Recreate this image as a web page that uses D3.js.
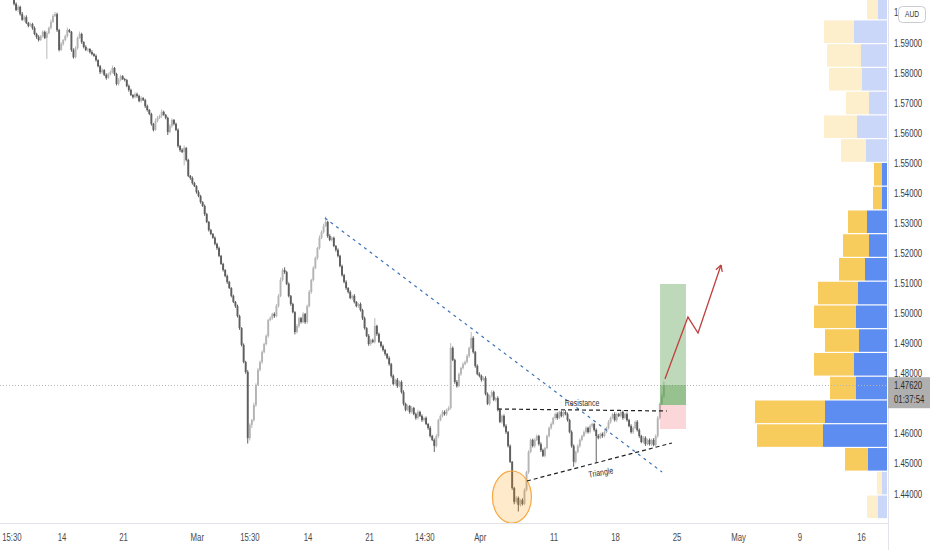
<!DOCTYPE html>
<html>
<head>
<meta charset="utf-8">
<script src="https://cdn.jsdelivr.net/npm/d3@7"></script>
<style>
  html, body { margin: 0; padding: 0; background: #fff; }
  svg { display: block; font-family: "Liberation Sans", Arial, sans-serif; }
</style>
</head>
<body>
<div id="chart"></div>
<script>
// 4h candles, prices in pips (price * 10000), open = previous close
var firstOpen = 16060;
var closes = [
  16030, 16010, 16020, 15996, 15977, 15986, 15967, 15957, 15963, 15950,
  15930, 15920, 15910, 15923, 15937, 15917, 15933, 15950, 15970, 15990,
  15996, 15943, 15877, 15897, 15910, 15923, 15943, 15937, 15877, 15853,
  15883, 15917, 15930, 15903, 15887, 15877, 15880, 15870, 15863, 15857,
  15843, 15823, 15803, 15810, 15794, 15784, 15797, 15803, 15817, 15797,
  15764, 15777, 15790, 15780, 15777, 15757, 15744, 15727, 15720, 15730,
  15724, 15707, 15717, 15710, 15690, 15677, 15664, 15631, 15611, 15641,
  15651, 15657, 15671, 15661, 15651, 15604, 15624, 15644, 15631, 15611,
  15557, 15544, 15538, 15551, 15511, 15458, 15451, 15434, 15424, 15404,
  15391, 15371, 15358, 15331, 15305, 15278, 15265, 15252, 15232, 15218,
  15192, 15165, 15145, 15125, 15105, 15085, 15059, 15039, 15025, 14992,
  14952, 14896, 14839, 14806, 14586, 14630, 14646, 14696, 14763, 14813,
  14839, 14872, 14899, 14926, 14979, 14985, 14999, 14992, 15025, 15059,
  15112, 15145, 15138, 15099, 15059, 15032, 15005, 14939, 14959, 14985,
  14972, 14999, 14972, 15025, 15072, 15112, 15152, 15185, 15218, 15252,
  15271, 15291, 15305, 15258, 15245, 15252, 15225, 15212, 15192, 15158,
  15128, 15105, 15085, 15072, 15052, 15059, 15039, 15025, 15032, 15012,
  14985, 14952, 14926, 14899, 14912, 14906, 14959, 14932, 14906, 14892,
  14879, 14866, 14852, 14832, 14793, 14766, 14780, 14759, 14773, 14739,
  14700, 14680, 14693, 14673, 14686, 14666, 14653, 14673, 14660, 14646,
  14653, 14633, 14620, 14593, 14580, 14560, 14593, 14646, 14660, 14673,
  14666, 14680, 14686, 14886, 14846, 14773, 14759, 14799, 14819, 14832,
  14839, 14859, 14886, 14919, 14872, 14826, 14799, 14793, 14780, 14786,
  14733, 14700, 14726, 14739, 14713, 14719, 14680, 14640, 14660, 14626,
  14606, 14560, 14507, 14420, 14374, 14387, 14364, 14380, 14367, 14414,
  14473, 14540, 14580, 14560, 14580, 14593, 14566, 14546, 14527, 14553,
  14593, 14620, 14633, 14653, 14666, 14653, 14673, 14660, 14673, 14666,
  14646, 14606, 14560, 14507, 14540, 14560, 14580, 14593, 14606, 14620,
  14606, 14626, 14633, 14613, 14593, 14587, 14600, 14593, 14606, 14620,
  14640, 14653, 14666, 14646, 14666, 14660, 14673, 14653, 14666, 14646,
  14626, 14606, 14620, 14640, 14613, 14593, 14573, 14587, 14566, 14580,
  14566, 14580, 14563, 14593, 14653, 14700, 14726, 14762
];
// wick length above / below the body, pips
var wickUp = [
  8,5,6,4,7,5,6,3,5,4, 5,4,6,3,5,4,6,5,8,6, 7,5,4,6,3,5,8,4,3,5, 6,5,8,4,3,5,4,3,6,4,
  5,3,4,6,3,5,4,6,8,3, 4,6,5,3,4,3,5,4,3,6, 5,4,6,3,4,5,3,4,3,8, 6,5,8,4,3,4,6,5,3,4,
  5,4,6,8,3,4,3,5,4,3, 6,4,3,5,4,3,4,3,5,4, 5,3,4,3,5,4,3,4,3,5, 4,3,5,4,6,5,4,8,5,6,
  5,6,4,5,3,6,4,5,7,6, 8,6,9,4,5,3,4,3,6,5, 4,6,3,5,7,4,6,5,4,8, 6,8,18,4,6,5,4,3,5,4,
  5,4,6,3,5,4,6,3,4,5, 4,5,3,6,4,5,26,4,5,3, 5,4,3,6,4,5,3,6,4,5, 6,4,5,3,6,4,5,7,4,5,
  4,5,3,6,4,5,6,4,5,6, 5,4,6,16,5,4,6,5,4,6, 5,6,4,20,6,4,5,6,4,5, 6,5,4,6,5,4,6,5,4,5,
  6,4,5,3,4,6,5,4,6,5, 4,6,5,4,6,5,4,6,5,4, 5,4,6,4,5,6,4,5,4,6, 5,4,6,5,4,6,5,4,6,5,
  4,6,5,4,5,6,4,5,6,4, 6,5,4,6,5,4,6,5,4,5, 4,6,5,4,6,5,4,6,5,4, 5,4,6,5,6,5,8,12
];
var wickDn = [
  5,4,6,5,3,6,4,5,3,6, 4,6,5,3,5,4,70,4,5,3, 4,6,5,3,6,4,5,3,6,5, 4,5,3,6,5,4,6,5,4,3,
  5,4,6,5,4,6,3,5,4,6, 5,6,4,3,5,4,6,3,5,4, 6,4,5,3,6,5,4,6,5,3, 5,4,6,3,5,10,4,6,5,4,
  5,6,4,45,5,4,6,5,3,5, 4,5,3,6,4,5,4,3,5,6, 4,3,5,4,6,3,5,4,6,5, 6,5,4,6,18,8,10,5,6,4,
  5,6,4,5,6,4,5,6,4,5, 4,5,6,4,5,6,4,8,5,6, 5,4,6,5,4,6,5,4,6,5, 4,5,3,6,4,5,4,6,5,4,
  5,4,6,5,4,6,5,4,6,5, 6,5,4,6,5,4,5,6,4,5, 5,6,4,5,6,4,5,6,4,5, 6,5,4,6,5,4,6,5,4,6,
  5,4,6,5,4,20,5,6,4,5, 5,6,4,5,4,6,5,4,6,5, 4,5,6,4,5,6,4,5,6,4, 5,4,6,5,4,6,5,4,6,5,
  6,5,4,6,8,5,22,6,5,4, 5,6,4,5,6,4,5,6,4,5, 4,5,6,4,5,6,4,5,6,4, 5,4,6,16,5,4,6,5,4,6,
  5,4,6,5,90,5,4,6,5,4, 5,6,4,5,6,4,5,6,4,5, 4,5,6,4,5,6,4,5,6,4, 5,6,4,5,6,5,4,6
];

// time: trading days counted from Mon Feb 7
var firstCandleDay = 1.1;
var candlesPerDay = 6;
var timeTickDays = [0.93, 5, 10, 16, 20.28, 25, 30, 34.5, 39, 45, 50, 55, 60, 65, 70];
var timeTickLabels = ['15:30', '14', '21', 'Mar', '15:30', '14', '21', '14:30', 'Apr', '11', '18', '25', 'May', '9', '16'];

var priceTicks = [1.44, 1.45, 1.46, 1.47, 1.48, 1.49, 1.50, 1.51, 1.52, 1.53, 1.54, 1.55, 1.56, 1.57, 1.58, 1.59, 1.60];
var lastPrice = 1.4762;
var lastPriceTimer = '01:37:54';
var currency = 'AUD';

// visible range volume profile: row low price, up (yellow) and down (blue) volume
var vpStep = 0.0079;
var vpLow = [1.5977, 1.5898, 1.5819, 1.5740, 1.5661, 1.5582, 1.5503, 1.5424, 1.5345, 1.5266, 1.5187,
             1.5108, 1.5029, 1.4950, 1.4871, 1.4792, 1.4713, 1.4634, 1.4555, 1.4476, 1.4397, 1.4318];
var vpUp   = [11, 30, 34, 33, 23, 33, 25, 8, 9, 19, 26, 26, 40, 42, 34, 40, 26, 70, 66, 23, 5, 11];
var vpDown = [9, 33, 26, 25, 18, 30, 21, 5, 5, 20, 18, 22, 29, 31, 28, 33, 31, 62, 64, 19, 5, 9];
var valueArea = [1.4476, 1.5503];

// drawings, points as [day, price]
var trendLine = [[26.38, 1.5318], [53.78, 1.44733]];
var resistanceLine = [[40.45, 1.46828], [54.19, 1.46762]];
var triangleLine = [[42.8, 1.44434], [54.59, 1.45698]];
var resistanceText = ['Resistance', 47.28, 1.47028];
var triangleText = ['Triangle', 48.8, 1.44720];
var bottomCircle = [41.58, 1.43902, 1.585, 0.00865];          // center day, center price, radius days, radius price
var longPosition = [53.62, 55.73, 1.46961, 1.50985, 1.46163]; // from, to, entry, target, stop
var projection = [[54.02, 1.47829], [55.89, 1.49886], [56.71, 1.49354], [58.58, 1.51615]];

var chart = {};

chart.W = 932;
chart.H = 550;
chart.plotW = 888;
chart.plotH = 523;

chart.x = d3.scaleLinear().domain([0, 72]).range([0.5, 0.5 + 72 * 12.3]);
chart.y = d3.scaleLinear().domain([1.430372, 1.6043]).range([chart.plotH, 0]);

// narrow text like the TradingView labels
chart.text = function(g, str, tx, ty, size, anchor, color, rot){
  return g.append('text')
    .attr('transform', 'translate(' + tx + ',' + ty + ')' + (rot ? ' rotate(' + rot + ')' : '') + ' scale(0.78,1)')
    .attr('text-anchor', anchor)
    .attr('dy', '0.35em')
    .attr('font-size', size)
    .attr('fill', color)
    .text(str);
};

chart.candles = function(){
  return closes.map(function(c, i){
    var o = i === 0 ? firstOpen : closes[i - 1];
    return {
      day: firstCandleDay + i / candlesPerDay,
      open: o / 1e4,
      close: c / 1e4,
      high: (Math.max(o, c) + wickUp[i]) / 1e4,
      low: (Math.min(o, c) - wickDn[i]) / 1e4
    };
  });
};

chart.draw = function(){
  var x = chart.x, y = chart.y;
  var svg = d3.select('#chart').append('svg')
    .attr('width', chart.W)
    .attr('height', chart.H);

  svg.append('rect').attr('width', chart.W).attr('height', chart.H).attr('fill', '#fff');

  svg.append('clipPath').attr('id', 'plot-clip')
    .append('rect').attr('width', chart.plotW).attr('height', chart.plotH);

  var plot = svg.append('g').attr('clip-path', 'url(#plot-clip)');

  // volume profile
  var totals = vpUp.map(function(u, i){ return u + vpDown[i]; });
  var vx = d3.scaleLinear().domain([0, d3.max(totals)]).range([0, 132]);
  var right = chart.plotW - 1;
  var rows = plot.append('g').selectAll('g')
    .data(vpLow)
    .enter().append('g');
  rows.each(function(low, i){
    var inVA = low >= valueArea[0] - 1e-6 && low + vpStep <= valueArea[1] + 1e-6;
    var top = y(low + vpStep) + 0.6;
    var h = y(low) - top - 0.6;
    var g = d3.select(this);
    g.append('rect')
      .attr('x', right - vx(vpDown[i])).attr('y', top)
      .attr('width', vx(vpDown[i])).attr('height', h)
      .attr('fill', inVA ? '#5e8df2' : '#cad7f9');
    g.append('rect')
      .attr('x', right - vx(totals[i])).attr('y', top)
      .attr('width', vx(vpUp[i])).attr('height', h)
      .attr('fill', inVA ? '#f8cb5d' : '#fdefcb');
  });

  // last price line
  plot.append('line')
    .attr('x1', 0).attr('x2', chart.plotW)
    .attr('y1', Math.round(y(lastPrice)) + 0.5).attr('y2', Math.round(y(lastPrice)) + 0.5)
    .attr('stroke', '#b4b6bc').attr('stroke-dasharray', '1 2');

  // candles
  var data = chart.candles();
  var cg = plot.append('g');
  cg.selectAll('line')
    .data(data)
    .enter().append('line')
    .attr('x1', function(d){ return x(d.day); })
    .attr('x2', function(d){ return x(d.day); })
    .attr('y1', function(d){ return y(d.high); })
    .attr('y2', function(d){ return y(d.low); })
    .attr('stroke', function(d){ return d.close >= d.open ? '#b8b8b8' : '#626262'; })
    .attr('stroke-width', 1);
  cg.selectAll('rect')
    .data(data)
    .enter().append('rect')
    .attr('x', function(d){ return x(d.day) - 0.95; })
    .attr('y', function(d){ return y(Math.max(d.open, d.close)); })
    .attr('width', 1.9)
    .attr('height', function(d){ return Math.max(0.9, Math.abs(y(d.open) - y(d.close))); })
    .attr('fill', function(d){ return d.close >= d.open ? '#b4b4b4' : '#5e5e5e'; });

  // long position tool
  var lp = longPosition;
  var lx = x(lp[0]), lw = x(lp[1]) - x(lp[0]);
  plot.append('rect')
    .attr('x', lx).attr('y', y(lp[3]))
    .attr('width', lw).attr('height', y(lp[2]) - y(lp[3]))
    .attr('fill', 'rgb(92,160,80)').attr('fill-opacity', 0.4);
  plot.append('rect')
    .attr('x', lx).attr('y', y(lastPrice))
    .attr('width', lw).attr('height', y(lp[2]) - y(lastPrice))
    .attr('fill', 'rgb(92,160,80)').attr('fill-opacity', 0.4);
  plot.append('rect')
    .attr('x', lx).attr('y', y(lp[2]))
    .attr('width', lw).attr('height', y(lp[4]) - y(lp[2]))
    .attr('fill', 'rgb(242,54,69)').attr('fill-opacity', 0.2);

  // bottom circle
  var bc = bottomCircle;
  plot.append('ellipse')
    .attr('cx', x(bc[0])).attr('cy', y(bc[1]))
    .attr('rx', x(bc[0] + bc[2]) - x(bc[0]))
    .attr('ry', y(bc[1] - bc[3]) - y(bc[1]))
    .attr('fill', 'rgb(255,152,0)').attr('fill-opacity', 0.2)
    .attr('stroke', '#f5a940').attr('stroke-width', 1.2);

  var line = d3.line()
    .x(function(d){ return x(d[0]); })
    .y(function(d){ return y(d[1]); });

  plot.append('path').datum(trendLine).attr('d', line)
    .attr('fill', 'none').attr('stroke', '#3a72b8').attr('stroke-width', 1.2)
    .attr('stroke-dasharray', '3 4');
  [resistanceLine, triangleLine].forEach(function(pts){
    plot.append('path').datum(pts).attr('d', line)
      .attr('fill', 'none').attr('stroke', '#222').attr('stroke-width', 1.2)
      .attr('stroke-dasharray', '4 3');
  });
  chart.text(plot, resistanceText[0], x(resistanceText[1]), y(resistanceText[2]), 9, 'middle', '#333');
  chart.text(plot, triangleText[0], x(triangleText[1]), y(triangleText[2]), 9, 'middle', '#333', -10);

  // projected path with arrow head
  plot.append('path').datum(projection).attr('d', line)
    .attr('fill', 'none').attr('stroke', '#c0403f').attr('stroke-width', 1.3);
  var n = projection.length;
  var tipX = x(projection[n - 1][0]), tipY = y(projection[n - 1][1]);
  var ang = Math.atan2(tipY - y(projection[n - 2][1]), tipX - x(projection[n - 2][0]));
  [-0.5, 0.5].forEach(function(a){
    plot.append('line')
      .attr('x1', tipX).attr('y1', tipY)
      .attr('x2', tipX - 7 * Math.cos(ang + a)).attr('y2', tipY - 7 * Math.sin(ang + a))
      .attr('stroke', '#c0403f').attr('stroke-width', 1.3);
  });

  // axes borders
  svg.append('line')
    .attr('x1', 0).attr('x2', chart.plotW)
    .attr('y1', chart.plotH + 0.5).attr('y2', chart.plotH + 0.5)
    .attr('stroke', '#e2e4ea');
  svg.append('line')
    .attr('x1', chart.plotW + 0.5).attr('x2', chart.plotW + 0.5)
    .attr('y1', 0).attr('y2', chart.H)
    .attr('stroke', '#e2e4ea');

  // time labels
  var tg = svg.append('g');
  timeTickDays.forEach(function(d, i){
    chart.text(tg, timeTickLabels[i], x(d), 537, 10, 'middle', '#4a4a4a');
  });

  // price labels, the one under the last price tag is covered
  var ly = y(lastPrice);
  var pg = svg.append('g');
  priceTicks.forEach(function(p){
    var py = y(p);
    if (py > ly - 4 && py < ly + 24) { return; }
    chart.text(pg, d3.format('.5f')(p), 894, py, 10, 'start', '#3a3a3a');
  });

  // currency badge, hides most of the top label
  svg.append('rect')
    .attr('x', 898.5).attr('y', 6.5).attr('width', 27).attr('height', 16).attr('rx', 4)
    .attr('fill', '#fff').attr('stroke', '#c9cbd0');
  chart.text(svg, currency, 912, 14.5, 8.5, 'middle', '#333');

  // last price label
  svg.append('rect')
    .attr('x', chart.plotW).attr('y', ly - 8).attr('width', 42).attr('height', 31)
    .attr('fill', '#afafaf');
  chart.text(svg, d3.format('.5f')(lastPrice), 894, ly, 10, 'start', '#2a2a2a');
  chart.text(svg, lastPriceTimer, 894, ly + 14, 10, 'start', '#2a2a2a');
};

chart.draw();
</script>
</body>
</html>
